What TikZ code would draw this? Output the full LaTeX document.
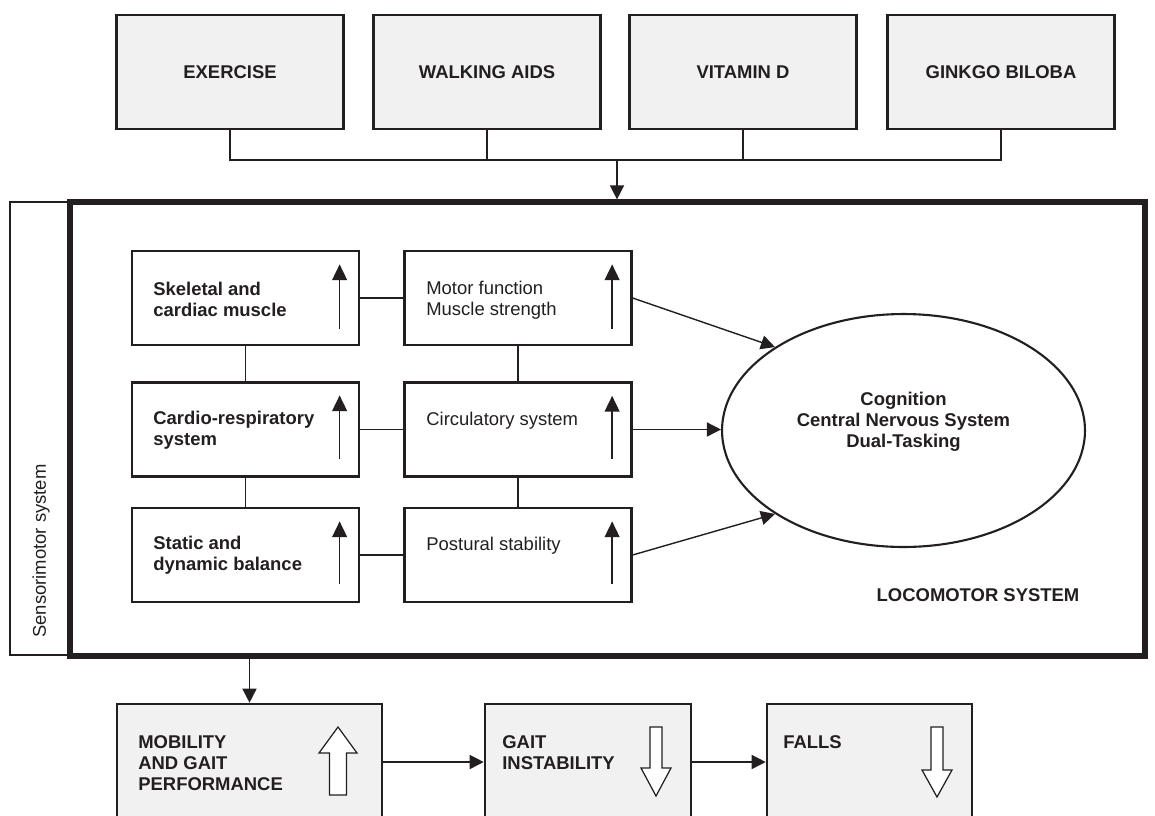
\documentclass[tikz,border=0pt]{standalone}
\usepackage{fontspec}
\setmainfont{Liberation Sans}
\usepackage{tikz}
\usetikzlibrary{arrows.meta,shapes.geometric}

\definecolor{ink}{RGB}{35,31,32}
\definecolor{boxgray}{RGB}{241,241,241}
\newcommand{\figfont}{\fontsize{10.5}{12}\selectfont}

\tikzset{
  plain/.style = {font=\figfont, text=ink},
  bold/.style = {font=\figfont\bfseries, text=ink},
  topbox/.style = {draw=ink, fill=boxgray, line width=1.5pt, minimum width=4.54cm, minimum height=2.28cm, bold},
  inbox/.style = {draw=ink, line width=1.3pt, minimum width=4.54cm, minimum height=1.88cm},
  intxt/.style = {anchor=west, align=left, inner sep=0pt, plain},
  lowbox/.style = {draw=ink, fill=boxgray, line width=1.5pt, minimum height=2.32cm},
  link/.style = {draw=ink, line width=0.8pt},
  arr/.style = {link, -{Triangle[length=8pt,width=8pt]}},
  uparr/.style = {link, -{Triangle[length=9pt,width=8.5pt]}},
  hollow/.style = {draw=ink, fill=white, line width=0.7pt, line join=miter}
}

\begin{document}
\begin{tikzpicture}[x=0.02cm, y=-0.02cm]
\useasboundingbox (0,0) rectangle (1155,815);
\clip (0,0) rectangle (1155,815);
\fill[white] (0,0) rectangle (1155,815);

\node[topbox] (exer) at (230,72) {EXERCISE};
\node[topbox] (walk) at (487,72) {WALKING AIDS};
\node[topbox] (vitd) at (743,72) {VITAMIN D};
\node[topbox] (gink) at (1001,72) {GINKGO BILOBA};
\coordinate (join) at (617,160);
\draw[link] (exer.south) |- (join) -| (gink.south);
\draw[link] (walk.south) -- (walk.south |- join);
\draw[link] (vitd.south) -- (vitd.south |- join);

\node[draw=ink, line width=0.9pt, minimum width=1.2cm, minimum height=9.06cm] (sens) at (40,428.5) {};
\node[plain, rotate=90] (senstx) at (41,551) {Sensorimotor system};
\node[draw=ink, line width=3pt, minimum width=21.5cm, minimum height=9.08cm] (loco) at (607.5,429) {};
\draw[arr] (join) -- (join |- loco.north);

\node[inbox] (skel) at (245.5,298) {};
\node[inbox] (card) at (245.5,429.5) {};
\node[inbox] (stat) at (245.5,555) {};
\node[inbox] (motor) at (518,298) {};
\node[inbox] (circ) at (518,429.5) {};
\node[inbox] (post) at (518,555) {};
\node[intxt, bold] (skeltx) at (153,299.5) {Skeletal and\\cardiac muscle};
\node[intxt, bold] (cardtx) at (153,430.5) {Cardio-respiratory\\system};
\node[intxt, bold] (stattx) at (153,555.5) {Static and\\dynamic balance};
\node[intxt] (motortx) at (426,300.5) {Motor function\\Muscle strength};
\node[intxt] (circtx) at (426,421) {Circulatory system};
\node[intxt] (posttx) at (426,546) {Postural stability};

\draw[uparr] ([xshift=-0.41cm,yshift=0.35cm]skel.south east) -- ([xshift=-0.41cm,yshift=-0.29cm]skel.north east);
\draw[uparr] ([xshift=-0.41cm,yshift=0.38cm]card.south east) -- ([xshift=-0.41cm,yshift=-0.28cm]card.north east);
\draw[uparr] ([xshift=-0.41cm,yshift=0.38cm]stat.south east) -- ([xshift=-0.41cm,yshift=-0.29cm]stat.north east);
\draw[uparr] ([xshift=-0.41cm,yshift=0.35cm]motor.south east) -- ([xshift=-0.41cm,yshift=-0.29cm]motor.north east);
\draw[uparr] ([xshift=-0.41cm,yshift=0.38cm]circ.south east) -- ([xshift=-0.41cm,yshift=-0.29cm]circ.north east);
\draw[uparr] ([xshift=-0.41cm,yshift=0.38cm]post.south east) -- ([xshift=-0.41cm,yshift=-0.29cm]post.north east);

\draw[link] (skel) -- (motor);
\draw[link] (card) -- (circ);
\draw[link] (stat) -- (post);
\draw[link] (skel) -- (card);
\draw[link] (card) -- (stat);
\draw[link] (motor) -- (circ);
\draw[link] (circ) -- (post);

\node[draw=ink, ellipse, line width=1.2pt, minimum width=7.26cm, minimum height=4.66cm, inner sep=0pt] (cogn) at (903.5,430.5) {};
\node[bold, align=center] (cogntx) at (903.5,421.5) {Cognition\\Central Nervous System\\Dual-Tasking};
\draw[arr] (motor.east) -- (cogn.147);
\draw[arr] (circ.east) -- (circ.east -| cogn.west);
\draw[arr] (post.east) -- (cogn.213);
\node[bold] (locotx) at (978,595) {LOCOMOTOR SYSTEM};

\node[lowbox, minimum width=5.3cm] (mobil) at (249.5,762) {};
\node[lowbox, minimum width=4.12cm] (gait) at (588,762) {};
\node[lowbox, minimum width=4.1cm] (falls) at (869.5,762) {};
\node[intxt, bold] (mobiltx) at (138,763.5) {MOBILITY\\AND GAIT\\PERFORMANCE};
\node[intxt, bold] (gaittx) at (502,752.5) {GAIT\\INSTABILITY};
\node[intxt, bold] (fallstx) at (783,742) {FALLS};
\draw[arr] (loco.south -| mobil.north) -- (mobil.north);
\draw[arr] (mobil) -- (gait);
\draw[arr] (gait) -- (falls);

\draw[hollow] (329.5,795) -- (329.5,753) -- (319,753) -- (338,727) -- (357,753) -- (346.5,753) -- (346.5,795) -- cycle;
\draw[hollow] (650,727) -- (650,768) -- (641,768) -- (656,796) -- (671,768) -- (662,768) -- (662,727) -- cycle;
\draw[hollow] (931,727) -- (931,770) -- (922,770) -- (937,797) -- (952,770) -- (943,770) -- (943,727) -- cycle;
\end{tikzpicture}
\end{document}
